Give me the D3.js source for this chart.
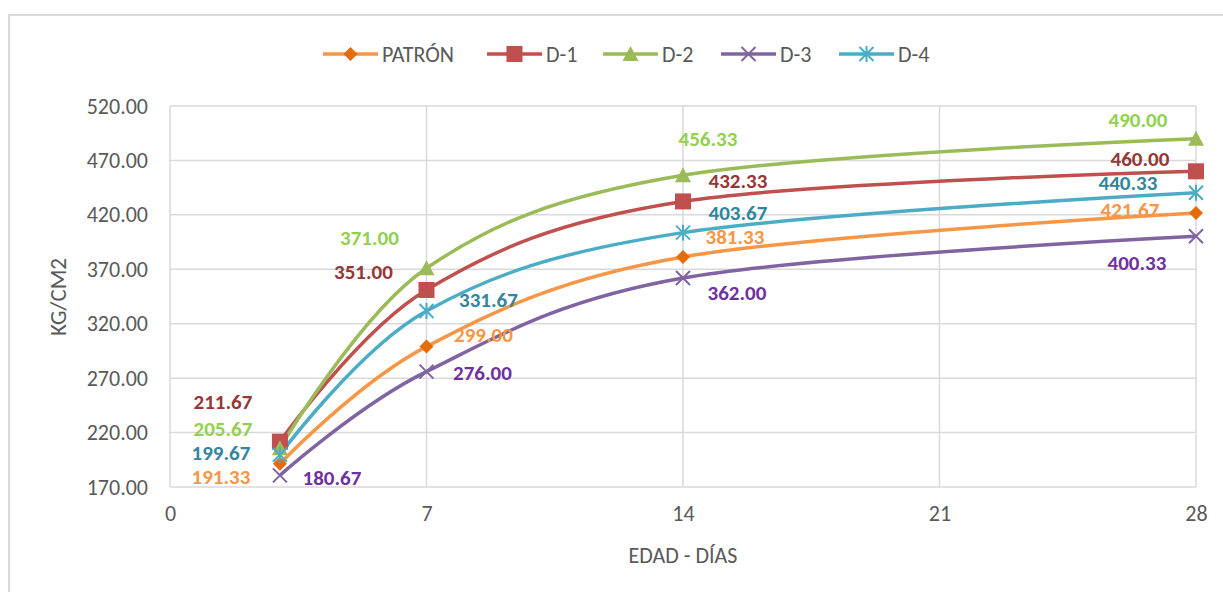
<!DOCTYPE html>
<html>
<head>
<meta charset="utf-8">
<script src="https://cdn.jsdelivr.net/npm/d3@7"></script>
<style>
  body { margin: 0; background: #fff; }
  svg text { font-family: Carlito, Lato, "Open Sans", sans-serif; }
</style>
</head>
<body>
<svg id="chart" width="1223" height="592"></svg>
<script>
// data
var days = [3, 7, 14, 28];
var seriesNames = ["PATRÓN", "D-1", "D-2", "D-3", "D-4"];
var patron = [191.33, 299.00, 381.33, 421.67];
var d1 = [211.67, 351.00, 432.33, 460.00];
var d2 = [205.67, 371.00, 456.33, 490.00];
var d3v = [180.67, 276.00, 362.00, 400.33];
var d4 = [199.67, 331.67, 403.67, 440.33];
var xTicks = [0, 7, 14, 21, 28];
var yTicks = [170, 220, 270, 320, 370, 420, 470, 520];

var lineColors = ["#F79646", "#C0504D", "#9BBB59", "#8064A2", "#4BACC6"];
var markerColors = ["#E46C0A", "#C0504D", "#9BBB59", "#8064A2", "#4BACC6"];
var labelColors = ["#F79646", "#953735", "#92D050", "#7030A0", "#31859C"];
var markerKinds = ["diamond", "square", "triangle", "x", "star"];

// label offsets (px from marker) per series, per point
var labelOffsets = [
    [[-59, 13], [57, -12], [52, -20], [-66, -3]],
    [[-57, -40], [-63, -18], [55, -21], [-56, -13]],
    [[-57, -20], [-57, -31], [25, -37], [-58, -19]],
    [[52, 2], [56, 1], [54, 15], [-59, 26]],
    [[-59, -2], [62, -11], [55, -20], [-68, -10]]
];

var allValues = [patron, d1, d2, d3v, d4];

var svg = d3.select("#chart");
var margin = {top: 106, left: 170, right: 27, bottom: 105};
var width = 1223 - margin.left - margin.right;
var height = 592 - margin.top - margin.bottom;

// outer chart border (only top and left visible)
svg.append("path")
    .attr("d", "M9,592 V15 H1223")
    .attr("fill", "none")
    .attr("stroke", "#D9D9D9")
    .attr("stroke-width", 2);

var g = svg.append("g").attr("transform", "translate(" + margin.left + "," + margin.top + ")");

var xScale = d3.scaleLinear().domain([0, 28]).range([0, width]);
var yScale = d3.scaleLinear().domain([170, 520]).range([height, 0]);

// gridlines
g.selectAll(".hgrid").data(yTicks).enter().append("line")
    .attr("x1", 0).attr("x2", width)
    .attr("y1", function (d) { return yScale(d); })
    .attr("y2", function (d) { return yScale(d); })
    .attr("stroke", "#D9D9D9").attr("stroke-width", 1.5);

g.selectAll(".vgrid").data(xTicks).enter().append("line")
    .attr("x1", function (d) { return xScale(d); })
    .attr("x2", function (d) { return xScale(d); })
    .attr("y1", 0).attr("y2", height)
    .attr("stroke", "#D9D9D9").attr("stroke-width", 1.5);

// axes
var yAxis = d3.axisLeft(yScale).tickValues(yTicks).tickSize(0).tickPadding(22)
    .tickFormat(d3.format(".2f"));
var yAxisG = g.append("g").call(yAxis);
yAxisG.select(".domain").remove();
yAxisG.selectAll("text").attr("font-size", 22).attr("fill", "#595959");

var xAxis = d3.axisBottom(xScale).tickValues(xTicks).tickSize(0).tickPadding(18);
var xAxisG = g.append("g").attr("transform", "translate(0," + height + ")").call(xAxis);
xAxisG.select(".domain").remove();
xAxisG.selectAll("text").attr("font-size", 22).attr("fill", "#595959");

// axis titles
svg.append("text")
    .attr("x", 683).attr("y", 563)
    .attr("text-anchor", "middle")
    .attr("font-size", 22).attr("fill", "#595959")
    .text("EDAD - DÍAS");

svg.append("text")
    .attr("transform", "translate(66,297) rotate(-90)")
    .attr("text-anchor", "middle")
    .attr("font-size", 23).attr("fill", "#595959")
    .text("KG/CM2");

function drawMarker(sel, kind, color) {
    if (kind === "diamond") {
        sel.append("path").attr("d", "M0,-7 L7,0 L0,7 L-7,0 Z").attr("fill", color);
    } else if (kind === "square") {
        sel.append("rect").attr("x", -8).attr("y", -8).attr("width", 16).attr("height", 16).attr("fill", color);
    } else if (kind === "triangle") {
        sel.append("path").attr("d", "M0,-8 L8,7 L-8,7 Z").attr("fill", color);
    } else if (kind === "x") {
        sel.append("path").attr("d", "M-7,-7 L7,7 M7,-7 L-7,7")
            .attr("stroke", color).attr("stroke-width", 2).attr("fill", "none");
    } else {
        sel.append("path").attr("d", "M-7,-7 L7,7 M7,-7 L-7,7 M0,-8 L0,8")
            .attr("stroke", color).attr("stroke-width", 2).attr("fill", "none");
    }
}

var line = d3.line()
    .x(function (d) { return xScale(d[0]); })
    .y(function (d) { return yScale(d[1]); })
    .curve(d3.curveCardinal.tension(0));

allValues.forEach(function (vals, s) {
    var pts = days.map(function (d, i) { return [d, vals[i]]; });
    g.append("path")
        .datum(pts)
        .attr("d", line)
        .attr("fill", "none")
        .attr("stroke", lineColors[s])
        .attr("stroke-width", 3.5);
});

allValues.forEach(function (vals, s) {
    days.forEach(function (d, i) {
        var m = g.append("g")
            .attr("transform", "translate(" + xScale(d) + "," + yScale(vals[i]) + ")");
        drawMarker(m, markerKinds[s], markerColors[s]);
    });
});

// data labels
allValues.forEach(function (vals, s) {
    days.forEach(function (d, i) {
        g.append("text")
            .attr("x", xScale(d) + labelOffsets[s][i][0])
            .attr("y", yScale(vals[i]) + labelOffsets[s][i][1])
            .attr("dy", "0.35em")
            .attr("text-anchor", "middle")
            .attr("font-size", 21)
            .attr("font-weight", "bold")
            .attr("fill", labelColors[s])
            .text(d3.format(".2f")(vals[i]));
    });
});

// legend
var legendX = [323, 487, 603, 721, 839];
var legend = svg.append("g").attr("transform", "translate(0,54)");
seriesNames.forEach(function (name, s) {
    var lg = legend.append("g").attr("transform", "translate(" + legendX[s] + ",0)");
    lg.append("line").attr("x1", 0).attr("x2", 55).attr("y1", 0).attr("y2", 0)
        .attr("stroke", lineColors[s]).attr("stroke-width", 3.5);
    var mk = lg.append("g").attr("transform", "translate(27.5,0)");
    drawMarker(mk, markerKinds[s], markerColors[s]);
    lg.append("text").attr("x", 59).attr("y", 0).attr("dy", "0.35em")
        .attr("font-size", 22).attr("fill", "#595959").text(name);
});
</script>
</body>
</html>
